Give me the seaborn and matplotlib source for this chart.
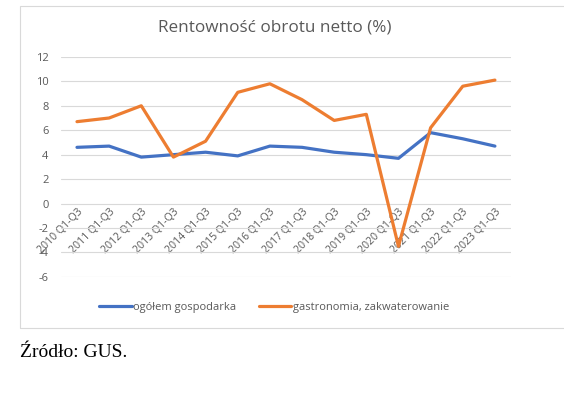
import pandas as pd
import seaborn as sns
import matplotlib.pyplot as plt
from matplotlib.patches import Rectangle

okresy = ["2010 Q1-Q3", "2011 Q1-Q3", "2012 Q1-Q3", "2013 Q1-Q3", "2014 Q1-Q3",
          "2015 Q1-Q3", "2016 Q1-Q3", "2017 Q1-Q3", "2018 Q1-Q3", "2019 Q1-Q3",
          "2020 Q1-Q3", "2021 Q1-Q3", "2022 Q1-Q3", "2023 Q1-Q3"]
ogolem = [4.6, 4.7, 3.8, 4.0, 4.2, 3.9, 4.7, 4.6, 4.2, 4.0, 3.7, 5.8, 5.3, 4.7]
gastro = [6.7, 7.0, 8.0, 3.8, 5.1, 9.1, 9.8, 8.5, 6.8, 7.3, -3.5, 6.2, 9.6, 10.1]
serie = ["ogółem gospodarka", "gastronomia, zakwaterowanie"]
y_ticks = [-6, -4, -2, 0, 2, 4, 6, 8, 10, 12]

df = pd.DataFrame({
    "okres": list(range(len(okresy))) * 2,
    "wartosc": ogolem + gastro,
    "seria": [serie[0]] * len(okresy) + [serie[1]] * len(okresy),
})

sns.set_style("white")
plt.rcParams["font.family"] = ["Open Sans", "DejaVu Sans"]
szary = "#595959"

fig = plt.figure(figsize=(5.64, 3.95), dpi=100)
ax = fig.add_axes([0.108, 0.299, 0.798, 0.557])

sns.lineplot(data=df, x="okres", y="wartosc", hue="seria",
             palette=["#4472C4", "#ED7D31"], linewidth=2.3, ax=ax, legend=False)

ax.set_ylim(-6, 12)
ax.set_xlim(-0.5, len(okresy) - 0.5)
ax.set_yticks(y_ticks)
ax.set_yticklabels([str(t) for t in y_ticks], fontsize=8, color=szary)
ax.yaxis.grid(True, color="#D9D9D9", linewidth=0.8)
ax.set_axisbelow(True)
for s in ["top", "right", "left"]:
    ax.spines[s].set_visible(False)
ax.spines["bottom"].set_position(("data", 0))
ax.spines["bottom"].set_visible(False)
ax.set_xticks(range(len(okresy)))
ax.set_xticklabels(okresy, rotation=45, ha="right", rotation_mode="anchor",
                   fontsize=7.6, color=szary)
ax.tick_params(axis="x", length=0, pad=2)
ax.tick_params(axis="y", length=0, pad=9)
ax.set_xlabel("")
ax.set_ylabel("")

fig.text(0.487, 0.93, "Rentowność obrotu netto (%)", ha="center", va="center",
         fontsize=12.3, color=szary)

uchwyty = [plt.Line2D([], [], color=c, linewidth=2.3) for c in ["#4472C4", "#ED7D31"]]
fig.legend(uchwyty, serie, loc="center", bbox_to_anchor=(0.486, 0.222), ncol=2,
           frameon=False, fontsize=8, labelcolor=szary, handlelength=2.9,
           handletextpad=0.1, columnspacing=2.1)

fig.patches.append(Rectangle((0.036, 0.17), 0.97, 0.815, transform=fig.transFigure,
                             fill=False, edgecolor="#D9D9D9", linewidth=0.8))

fig.text(0.036, 0.108, "Źródło: GUS.", ha="left", va="center", fontsize=14,
         family="Liberation Serif", color="black")

fig.savefig("out.png", dpi=100, facecolor="white")
